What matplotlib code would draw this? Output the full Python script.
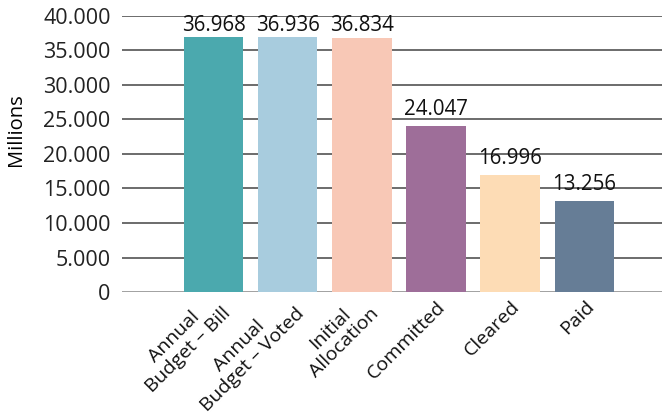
import matplotlib.pyplot as plt
import numpy as np

plt.rcParams['font.family'] = ['Open Sans', 'DejaVu Sans']

categories = ['Annual\nBudget – Bill', 'Annual\nBudget – Voted', 'Initial\nAllocation',
              'Committed', 'Cleared', 'Paid']
values = [36968, 36936, 36834, 24047, 16996, 13256]
colors = ['#4BA9AE', '#A8CCDE', '#F8C8B6', '#9E6E99', '#FDDCB5', '#667D96']
yticks = [0, 5000, 10000, 15000, 20000, 25000, 30000, 35000, 40000]
ymax = 40000


def fmt(v):
    return f"{v:,.0f}".replace(',', '.')


fig = plt.figure(figsize=(6.62, 4.19), dpi=100)
ax = fig.add_axes([0.184, 0.303, 0.816, 0.659])

x = np.arange(len(categories))
for y in yticks:
    ax.axhline(y, color='#888888' if y == 0 else '#444444', lw=1.1, zorder=0)
bars = ax.bar(x, values, width=0.8, color=colors, zorder=2)

# value labels: normal gap, squeezed down when they would leave the plot area
ax_h_pt = 0.659 * 4.19 * 72
for xi, v in zip(x, values):
    room = (ymax - v) / ymax * ax_h_pt
    pad = max(0.5, min(4, room - 14.8))
    ax.annotate(fmt(v), xy=(xi, v), xytext=(0, pad), textcoords='offset points',
                ha='center', va='bottom', fontsize=14.8, color='#111111')

ax.set_xlim(-1.24, 6.05)
ax.set_ylim(0, ymax)
ax.set_yticks(yticks)
ax.set_yticklabels([fmt(v) for v in yticks], fontsize=15.5, color='#222222')
ax.set_xticks(x)
ax.set_xticklabels([])
ax.tick_params(length=0)
ax.tick_params(axis='y', pad=8)

# rotated category labels, block centred on its right end
for i, lab in enumerate(categories):
    ax.annotate(lab, xy=(i, 0), xycoords=('data', 'axes fraction'),
                xytext=(5, -8.5), textcoords='offset points',
                rotation=45, ha='right', va='center', rotation_mode='anchor',
                fontsize=14, multialignment='center', linespacing=1.1,
                color='#111111')

ax.set_ylabel('Millions', fontsize=14.5)
ax.yaxis.set_label_coords(-0.178, 0.59)
for s in ax.spines.values():
    s.set_visible(False)

fig.savefig('out.png', dpi=100)
